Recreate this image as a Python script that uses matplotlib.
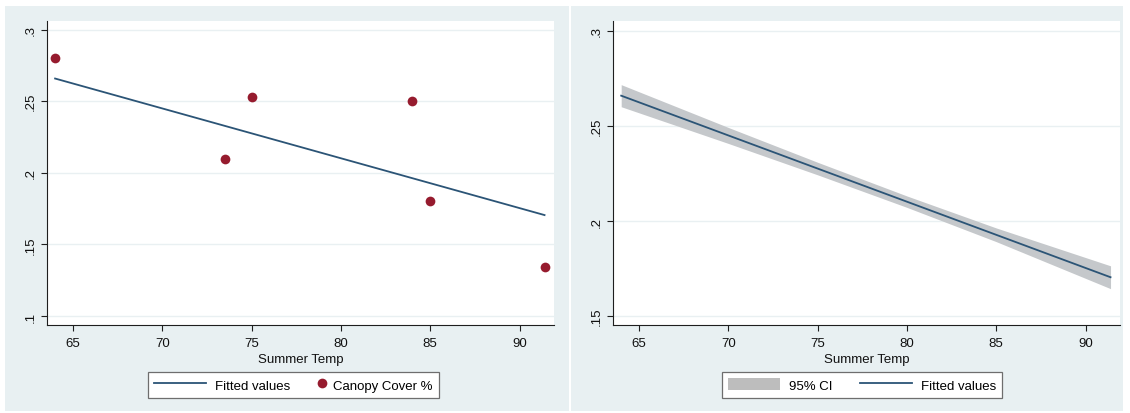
import matplotlib
matplotlib.use('Agg')
import matplotlib.pyplot as plt
from matplotlib.patches import Rectangle, Patch
from matplotlib.legend_handler import HandlerLine2D

# data
temp = [64, 73.5, 75, 84, 85, 91.4]
canopy = [0.280, 0.210, 0.253, 0.250, 0.180, 0.134]

fit_x = [64, 91.4]
fit_y = [0.2659, 0.1705]

ci_x = [64, 70, 75, 80, 85, 91.4]
ci_hi = [0.2717, 0.2492, 0.2309, 0.2132, 0.1964, 0.1765]
ci_lo = [0.2601, 0.2408, 0.2243, 0.2072, 0.1892, 0.1645]

xticks = [65, 70, 75, 80, 85, 90]
yticks_left = [0.1, 0.15, 0.2, 0.25, 0.3]
ylabels_left = ['.1', '.15', '.2', '.25', '.3']
yticks_right = [0.15, 0.2, 0.25, 0.3]
ylabels_right = ['.15', '.2', '.25', '.3']

plt.rcParams['font.family'] = ['Liberation Sans', 'DejaVu Sans']

bg = '#e8f0f2'
gridc = '#e9f0f2'
navy = '#2b5476'
maroon = '#961b2e'
cigray = '#c5c8cb'
W, H = 1130, 414

fig = plt.figure(figsize=(W / 100, H / 100), dpi=100)
fig.patch.set_facecolor('white')

# panel backgrounds
for x0, x1 in [(5, 569), (571, 1123)]:
    fig.patches.append(Rectangle((x0 / W, (H - 412) / H), (x1 - x0) / W, 405 / H,
                                 transform=fig.transFigure, facecolor=bg,
                                 edgecolor='none', zorder=-1))


def style(ax, yt, yl, ylim):
    ax.set_facecolor('white')
    ax.set_xlim(63.53, 91.93)
    ax.set_ylim(*ylim)
    ax.set_xticks(xticks)
    ax.set_yticks(yt)
    ax.set_yticklabels(yl, rotation=90, va='center')
    for s in ['top', 'right']:
        ax.spines[s].set_visible(False)
    for s in ['left', 'bottom']:
        ax.spines[s].set_color('#1e1e1e')
        ax.spines[s].set_linewidth(0.8)
    ax.tick_params(direction='out', length=4, width=0.8, color='#1e1e1e',
                   labelsize=9.5, labelcolor='#111111')
    ax.tick_params(axis='x', pad=4.5)
    ax.tick_params(axis='y', pad=3)
    ax.grid(axis='y', color=gridc, linewidth=1)
    ax.set_axisbelow(True)
    ax.set_xlabel('Summer Temp', fontsize=9.5, labelpad=3, color='#111111')


leg_kw = dict(loc='upper left', ncol=2, fontsize=9.5, handlelength=3.95,
              handletextpad=0.68, borderpad=0.48, handleheight=1.05,
              borderaxespad=0, fancybox=False, framealpha=1,
              edgecolor='#6e6e6e')

# left: scatter with fitted line
ax1 = fig.add_axes([46.7 / W, 88 / H, (554 - 46.7) / W, 304.3 / H])
style(ax1, yticks_left, ylabels_left, (0.0937, 0.3063))
ln1, = ax1.plot(fit_x, fit_y, color=navy, lw=1.3, zorder=2)
pts, = ax1.plot(temp, canopy, 'o', color=maroon, markersize=7, zorder=3,
                markeredgewidth=0)
leg1 = ax1.legend([ln1, pts], ['Fitted values', 'Canopy Cover %'],
                  handler_map={pts: HandlerLine2D(numpoints=1, xpad=3.6)},
                  bbox_to_anchor=(0.1989, -0.1535), columnspacing=-1.36,
                  **leg_kw)
leg1.get_frame().set_linewidth(0.9)

# right: fitted line with 95% CI
ax2 = fig.add_axes([612.8 / W, 88 / H, (1120 - 612.8) / W, 304.3 / H])
style(ax2, yticks_right, ylabels_right, (0.1454, 0.3053))
ax2.fill_between(ci_x, ci_lo, ci_hi, color=cigray, linewidth=0, zorder=2)
ln2, = ax2.plot(fit_x, fit_y, color=navy, lw=1.3, zorder=3)
ci_patch = Patch(facecolor='#bdbdbd', edgecolor='none')
leg2 = ax2.legend([ci_patch, ln2], ['95% CI', 'Fitted values'],
                  bbox_to_anchor=(0.2149, -0.1535), columnspacing=2.05,
                  **leg_kw)
leg2.get_frame().set_linewidth(0.9)

fig.savefig('out.png', dpi=100, facecolor=fig.get_facecolor())
